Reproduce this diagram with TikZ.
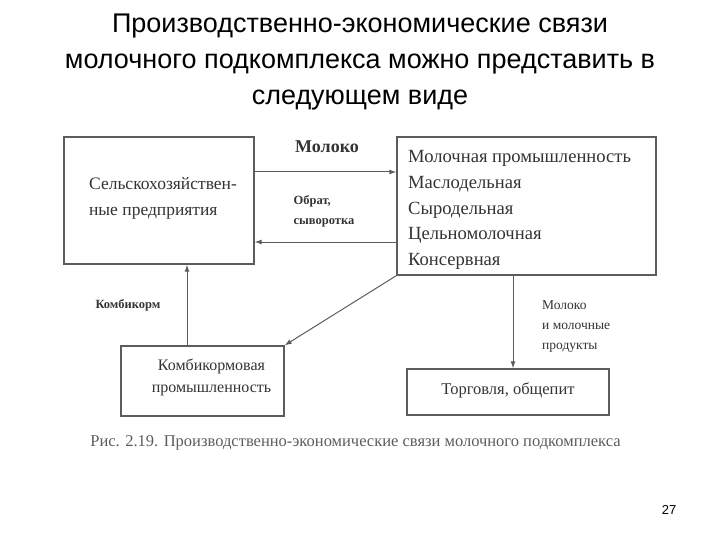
\documentclass[tikz,border=0pt]{standalone}
\usepackage{fontspec}
\setmainfont{Liberation Serif}
\newfontfamily\slidefont{Liberation Sans}
\usetikzlibrary{arrows.meta}
\definecolor{ink}{HTML}{333333}
\definecolor{frame}{HTML}{5C5C5C}

\begin{document}
\begin{tikzpicture}[
  x=1pt,y=-1pt,
  >={Latex[length=7pt,width=5pt]},
  box/.style={draw=frame,line width=1.3pt,inner sep=0pt},
  txt/.style={text=ink,font=\fontsize{18}{25.5}\selectfont,align=left,inner sep=0pt},
  lbl/.style={text=ink,font=\bfseries\fontsize{12.5}{20}\selectfont,align=left,inner sep=0pt},
  note/.style={text=ink,font=\fontsize{13.5}{20}\selectfont,align=left,inner sep=0pt},
  flow/.style={->,draw=frame,line width=1pt}
]
\useasboundingbox (0,0) rectangle (720,540);
% --- slide title ---------------------------------------------------------
\node[font=\slidefont\fontsize{27}{36}\selectfont,align=center] (title) at (360,62)
  {Производственно-экономические связи\\молочного подкомплекса можно представить в\\следующем виде};
% --- boxes -----------------------------------------------------------------
\node[box,minimum width=190pt,minimum height=127pt] (farm) at (159,200.5) {};
\node[txt,font=\fontsize{17.5}{26}\selectfont] (farmtxt) at (163,198) {Сельскохозяйствен-\\ные предприятия};
\node[box,minimum width=259pt,minimum height=138pt] (dairy) at (526.5,206) {};
\node[txt,anchor=west,font=\fontsize{18.6}{25.7}\selectfont] (dairytxt) at (408,210)
  {Молочная промышленность\\Маслодельная\\Сыродельная\\Цельномолочная\\Консервная};
\node[box,minimum width=163pt,minimum height=70pt] (feed) at (202.5,381) {};
\node[txt,align=center,font=\fontsize{16}{22}\selectfont] (feedtxt) at (211.5,377) {Комбикормовая\\промышленность};
\node[box,minimum width=202pt,minimum height=46pt] (trade) at (508,392) {};
\node[txt,font=\fontsize{16.5}{20}\selectfont] (tradetxt) at (508,390) {Торговля, общепит};
% --- flows -----------------------------------------------------------------
\draw[flow] (farm.east |- 0,172) -- (dairy.west |- 0,172);
\node[text=ink,font=\bfseries\fontsize{18}{20}\selectfont,inner sep=0pt] (milk) at (327,147) {Молоко};
\draw[flow] (dairy.west |- 0,242) -- (farm.east |- 0,242);
\node[lbl] (whey) at (324,211) {Обрат,\\сыворотка};
\draw[flow] (feed.north -| 187,0) -- (farm.south -| 187,0);
\node[lbl] (feedlbl) at (128,305) {Комбикорм};
\draw[flow] (dairy.south west) -- (feed.north east);
\draw[flow] (dairy.south -| 513,0) -- (trade.north -| 513,0);
\node[note,anchor=west] (prod) at (542,327) {Молоко\\и молочные\\продукты};
% --- caption & page number ---------------------------------------------------
\node[text=ink!80,font=\fontsize{16.5}{18}\selectfont,inner sep=0pt] (caption) at (355.5,443)
  {Рис. 2.19. Производственно-экономические связи молочного подкомплекса};
\node[font=\slidefont\fontsize{13}{15}\selectfont] (page) at (669,510) {27};
\end{tikzpicture}
\end{document}
